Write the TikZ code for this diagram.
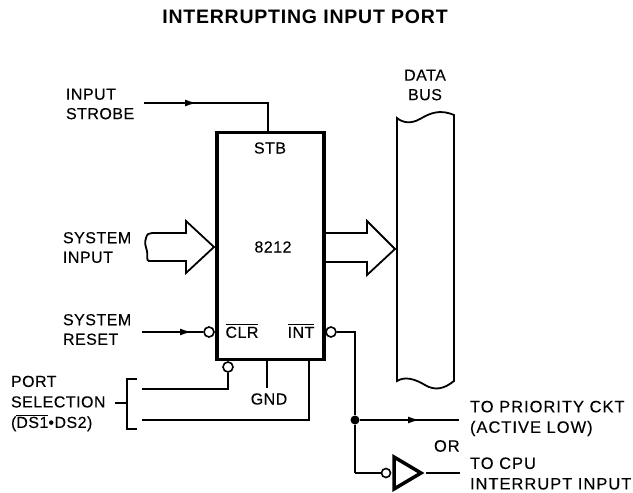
\documentclass[tikz,border=0pt]{standalone}
\usepackage{fontspec}
\setmainfont[LetterSpace=3,FakeBold=0.2]{Liberation Sans}
\newfontfamily\widefont[LetterSpace=6,FakeBold=0.2]{Liberation Sans}
\newfontfamily\titlefont[LetterSpace=4]{Liberation Sans Bold}
\usetikzlibrary{arrows.meta}
\tikzset{
  lab/.style={inner sep=0pt,outer sep=0pt,font=\fontsize{16}{19.5}\selectfont,align=left},
  wlab/.style={lab,anchor=west,font=\widefont\fontsize{16.5}{20.5}\selectfont},
  wire/.style={line width=2pt,line cap=butt},
  thin wire/.style={line width=1.7pt},
  bubble/.style={circle,draw,line width=1.6pt,fill=white,minimum size=10pt,inner sep=0pt},
  tip/.style={-{Latex[length=12pt,width=7pt]},line width=2pt},
  outline/.style={line width=1.8pt,line join=miter},
  dot/.style={circle,fill,minimum size=9pt,inner sep=0pt}
}
\begin{document}
\begin{tikzpicture}[x=1pt,y=-1pt]
\useasboundingbox (0,0) rectangle (633,493);
% title
\node[lab,font=\titlefont\fontsize{19.5}{22}\selectfont] (title) at (305,17) {INTERRUPTING INPUT PORT};
% chip
\node[draw,line width=3.5pt,minimum width=107pt,minimum height=227pt,inner sep=0pt] (chip) at (270.5,246) {};
\node[lab] (stb) at (270,148) {STB};
\node[lab] (num) at (273,247) {8212};
\node[lab] (clr) at (242,331) {$\overline{\vphantom{I}\hbox{CLR}}$};
\node[lab] (int) at (301,331) {$\overline{\vphantom{I}\hbox{INT}}$};
% labels
\node[lab,anchor=west] (strobe) at (66,104) {INPUT\\STROBE};
\node[lab,align=center] (bus) at (425,85) {DATA\\BUS};
\node[lab,anchor=west] (sysin) at (63,247.5) {SYSTEM\\INPUT};
\node[lab,anchor=west] (sysrst) at (63,329.5) {SYSTEM\\RESET};
\node[lab,anchor=west,font=\fontsize{16}{20.5}\selectfont] (port) at (11,403.5) {PORT\\SELECTION\\($\overline{\hbox{DS1}}$•DS2)};
\node[lab] (gnd) at (269,399) {GND};
\node[wlab] (prio) at (470,418.5) {TO PRIORITY CKT\\(ACTIVE LOW)};
\node[wlab] (or) at (434,446) {OR};
\node[wlab] (cpu) at (470,473.5) {TO CPU\\INTERRUPT INPUT};
% input strobe
\coordinate (sA) at (144,103);
\coordinate (sM) at (197,103);
\coordinate (sB) at (268,103);
\coordinate (sC) at (268,132);
\draw[wire] (sA) -- (sB) -- (sC);
\draw[tip] (sA) -- (sM);
% system input arrow
\coordinate (iTip) at (214,247);
\draw[outline,fill=white] (186,233) -- (186,221) -- (iTip) -- (186,273) -- (186,261) -- (149,261)
  .. controls (146,261) and (148,255) .. (147,251)
  .. controls (146,247) and (144,243) .. (146,238)
  .. controls (147,234) and (149,233) .. (152,233) -- cycle;
% output arrow
\coordinate (oTip) at (395,249);
\draw[outline] (325.5,233) -- (367,233) -- (367,221) -- (oTip) -- (367,275) -- (367,262) -- (325.5,262);
% data bus
\draw[outline] (397,118) .. controls (403,123) and (411,124) .. (420,119)
  .. controls (430,113) and (440,109) .. (454,115) -- (454,381)
  .. controls (444,389) and (435,391) .. (425,385)
  .. controls (415,379) and (405,376) .. (397,381) -- cycle;
% reset
\node[bubble] (bclr) at (209,332) {};
\coordinate (rA) at (142,332);
\coordinate (rM) at (192,332);
\draw[wire] (rA) -- (bclr);
\draw[tip] (rA) -- (rM);
% int
\node[bubble] (bint) at (331,332) {};
\coordinate (iA) at (355,332);
\node[dot] (junc) at (355,420) {};
\coordinate (iB) at (355,473);
\coordinate (pEnd) at (459,420);
\coordinate (pM) at (420,420);
\draw[wire] (bint) -- (iA) -- (junc) -- (iB);
\draw[wire] (junc) -- (pEnd);
\draw[tip] (junc) -- (pM);
% inverter
\node[bubble,minimum size=9pt] (binv) at (386,473) {};
\draw[wire] (iB) -- (binv);
\coordinate (triTip) at (426,473);
\coordinate (outEnd) at (460,473);
\draw[line width=3.5pt,line join=miter,miter limit=4] (394,457) -- (421,473) -- (394,489) -- cycle;
\draw[wire] (triTip) -- (outEnd);
% port selection
\node[bubble] (bsel) at (228,367) {};
\coordinate (s1) at (142,389);
\coordinate (s2) at (228,389);
\draw[wire] (s1) -- (s2) -- (bsel);
\coordinate (g1) at (267,361);
\coordinate (g2) at (267,388);
\draw[thin wire] (g1) -- (g2);
\coordinate (d1) at (142,420);
\coordinate (d2) at (309,420);
\coordinate (d3) at (309,361);
\draw[wire] (d1) -- (d2) -- (d3);
\coordinate (bk) at (127,403);
\coordinate (bl) at (115,403);
\draw[thin wire] (137,379) -- (127,379) -- (127,429) -- (137,429);
\draw[thin wire] (bl) -- (bk);
\end{tikzpicture}
\end{document}
